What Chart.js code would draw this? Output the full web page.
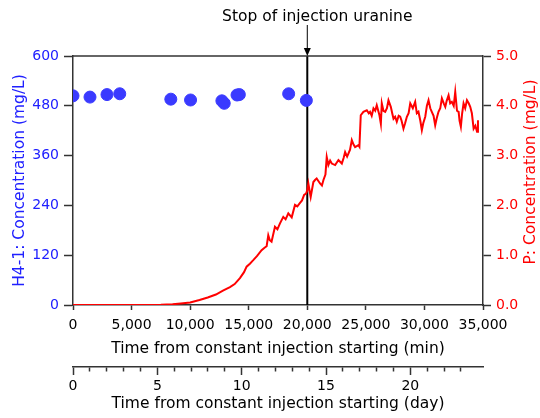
<!DOCTYPE html>
<html>
<head>
<meta charset="utf-8">
<script src="https://cdn.jsdelivr.net/npm/chart.js@4.4.1/dist/chart.umd.min.js"></script>
<style>
  body { margin: 0; background: #fff; }
  #wrap { width: 540px; height: 418px; }
</style>
</head>
<body>
<div id="wrap"><canvas id="myChart"></canvas></div>
<script>
// H4-1 uranine samples (min, mg/L)
const h4Time = [0, 1450, 2900, 3990, 8350, 10035, 12710, 12910, 14000, 14200, 18410, 19920];
const h4Conc = [504, 501, 507, 509, 496, 494, 492, 486, 506, 507, 509, 493];

// P monitoring (min, mg/L)
const pTime = [0, 2000, 4000, 6000, 7500, 8500, 9200, 10000, 10800, 11500, 12200, 12800, 13400, 13800,
  14250, 14600, 14820, 15100, 15390, 15700, 16100, 16350, 16530, 16670, 16800, 16950, 17240, 17450,
  17670, 17950, 18150, 18380, 18670, 18950, 19150, 19380, 19550, 19730, 19900, 20000, 20090, 20290,
  20520, 20660, 20800, 21090, 21250, 21380, 21550, 21660, 21800, 21950, 22090, 22380, 22520, 22660,
  22950, 23100, 23230, 23400, 23510, 23650, 23800, 23950, 24080, 24370, 24450, 24565, 24790, 25080,
  25250, 25360, 25500, 25650, 25800, 25930, 26160, 26280, 26360, 26500, 26650, 26800, 26930, 27130,
  27250, 27360, 27500, 27640, 27800, 27930, 28050, 28210, 28350, 28500, 28650, 28790, 29010, 29210,
  29350, 29490, 29650, 29780, 29900, 30070, 30210, 30350, 30500, 30630, 30780, 30920, 31050, 31200,
  31350, 31490, 31650, 31780, 31900, 32060, 32200, 32340, 32500, 32630, 32780, 32920, 33000, 33110,
  33220, 33340, 33480, 33630, 33780, 33910, 34050, 34200, 34350, 34490, 34570];
const pConc = [0, 0, 0, 0, 0.005, 0.015, 0.03, 0.05, 0.10, 0.15, 0.21, 0.29, 0.36, 0.42,
  0.54, 0.66, 0.77, 0.83, 0.90, 0.98, 1.10, 1.15, 1.18, 1.40, 1.30, 1.27, 1.57, 1.52,
  1.64, 1.77, 1.72, 1.84, 1.76, 2.01, 1.98, 2.05, 2.10, 2.21, 2.24, 2.30, 2.44, 2.17,
  2.47, 2.51, 2.54, 2.44, 2.40, 2.51, 2.62, 2.97, 2.81, 2.90, 2.84, 2.81, 2.86, 2.91,
  2.84, 2.95, 3.07, 2.98, 3.04, 3.12, 3.31, 3.22, 3.17, 3.21, 3.18, 3.81, 3.88, 3.91,
  3.85, 3.88, 3.80, 3.95, 3.90, 4.01, 3.81, 3.64, 4.05, 3.90, 3.88, 3.95, 4.11, 3.98,
  3.85, 3.74, 3.78, 3.68, 3.80, 3.78, 3.70, 3.54, 3.65, 3.78, 3.85, 4.05, 3.95, 4.08,
  3.85, 3.88, 3.70, 3.51, 3.65, 3.78, 4.00, 4.11, 3.95, 3.88, 3.80, 3.61, 3.75, 3.88,
  3.95, 4.15, 4.05, 3.98, 4.10, 4.21, 4.05, 4.08, 4.00, 4.28, 3.90, 3.88, 3.70, 3.58,
  3.85, 4.05, 3.95, 4.11, 4.05, 3.98, 3.85, 3.54, 3.60, 3.48, 3.71];

const minTicks = [0, 5000, 10000, 15000, 20000, 25000, 30000, 35000];
const stopTime = 20000;
const stopLabel = "Stop of injection uranine";
const leftTitle = "H4-1: Concentration (mg/L)";
const rightTitle = "P: Concentration (mg/L)";

const FONT = "'DejaVu Sans', sans-serif";
const BLUE = "#2020ff";
const RED = "#ff0000";
const AXIS = "#333";

const toPoints = (xs, ys) => xs.map((x, i) => ({ x: x, y: ys[i] }));

const extras = {
  id: "extras",
  beforeDatasetsDraw(chart) {
    const { ctx, chartArea, scales } = chart;
    const x = scales.x.getPixelForValue(stopTime);
    ctx.save();
    ctx.strokeStyle = "#000";
    ctx.lineWidth = 2;
    ctx.beginPath();
    ctx.moveTo(x, chartArea.top);
    ctx.lineTo(x, chartArea.bottom);
    ctx.stroke();
    ctx.restore();
  },
  afterDraw(chart) {
    const { ctx, chartArea, scales } = chart;
    const x = scales.x.getPixelForValue(stopTime);
    ctx.save();
    // top frame
    ctx.strokeStyle = AXIS;
    ctx.lineWidth = 1.5;
    ctx.beginPath();
    ctx.moveTo(chartArea.left, chartArea.top);
    ctx.lineTo(chartArea.right, chartArea.top);
    ctx.stroke();
    // arrow + label
    ctx.strokeStyle = "#000";
    ctx.lineWidth = 1;
    ctx.beginPath();
    ctx.moveTo(x, 25);
    ctx.lineTo(x, 49);
    ctx.stroke();
    ctx.fillStyle = "#000";
    ctx.beginPath();
    ctx.moveTo(x - 3.5, 48);
    ctx.lineTo(x + 3.5, 48);
    ctx.lineTo(x, 56);
    ctx.closePath();
    ctx.fill();
    ctx.font = "15.5px " + FONT;
    ctx.textAlign = "center";
    ctx.textBaseline = "alphabetic";
    ctx.fillText(stopLabel, x + 10, 20.5);
    // right axis title, reading bottom to top
    ctx.fillStyle = RED;
    ctx.textBaseline = "middle";
    ctx.translate(531, 172);
    ctx.rotate(-Math.PI / 2);
    ctx.fillText(rightTitle, 0, 0);
    ctx.restore();
  }
};

const tickFont = { family: FONT, size: 14 };
const titleFont = { family: FONT, size: 15.5 };

const config = {
  type: "scatter",
  data: {
    datasets: [
      {
        label: "H4-1",
        data: toPoints(h4Time, h4Conc),
        yAxisID: "y",
        backgroundColor: "#3a3aff",
        borderColor: "#3a3aff",
        pointRadius: 6,
        pointHoverRadius: 6,
        order: 0
      },
      {
        label: "P",
        data: toPoints(pTime, pConc),
        yAxisID: "yP",
        showLine: true,
        borderColor: RED,
        borderWidth: 2,
        pointRadius: 0,
        tension: 0,
        order: 1
      }
    ]
  },
  options: {
    responsive: true,
    maintainAspectRatio: false,
    animation: false,
    layout: { padding: { top: 56, left: 0, right: 0, bottom: 0 } },
    plugins: { legend: { display: false }, tooltip: { enabled: false } },
    scales: {
      x: {
        type: "linear",
        position: "bottom",
        weight: 0,
        min: 0,
        max: 35000,
        afterBuildTicks: (s) => { s.ticks = minTicks.map(v => ({ value: v })); },
        ticks: {
          color: "#000",
          font: tickFont,
          padding: 7,
          maxRotation: 0,
          callback: (v) => v.toLocaleString("en-US")
        },
        grid: { drawOnChartArea: false, tickLength: 5, color: AXIS, tickWidth: 1.5 },
        border: { color: AXIS, width: 1.5 },
        title: {
          display: true,
          text: "Time from constant injection starting (min)",
          color: "#000",
          font: titleFont,
          padding: { top: 9, bottom: 9 }
        },
        afterFit: (s) => { s.height = 62; }
      },
      xDay: {
        type: "linear",
        position: "bottom",
        weight: 1,
        min: 0,
        max: 35000 / 1440,
        afterBuildTicks: (s) => { s.ticks = s.ticks.filter(t => Number.isInteger(t.value)); },
        ticks: {
          stepSize: 1,
          autoSkip: false,
          maxRotation: 0,
          color: "#000",
          font: tickFont,
          padding: 3,
          callback: (v) => (v % 5 === 0 ? v : "")
        },
        grid: {
          drawOnChartArea: false,
          tickLength: 8,
          color: AXIS,
          tickWidth: 1.5,
          tickBorderDash: (c) => (c.tick && c.tick.value % 5 === 0 ? [] : [4, 20])
        },
        border: { color: AXIS, width: 1.5 },
        title: {
          display: true,
          text: "Time from constant injection starting (day)",
          color: "#000",
          font: titleFont,
          padding: { top: 5, bottom: 5 }
        },
        afterFit: (s) => { s.height = 51; }
      },
      y: {
        position: "left",
        min: 0,
        max: 600,
        ticks: { stepSize: 120, color: BLUE, font: tickFont, padding: 5 },
        grid: { drawOnChartArea: false, tickLength: 9, color: AXIS, tickWidth: 1.5 },
        border: { color: AXIS, width: 1.5 },
        title: {
          display: true,
          text: leftTitle,
          color: BLUE,
          font: titleFont,
          padding: { top: 11, bottom: 11 }
        },
        afterFit: (s) => { s.width = 73; }
      },
      yP: {
        position: "right",
        min: 0,
        max: 5,
        ticks: {
          stepSize: 1,
          color: RED,
          font: tickFont,
          padding: 5,
          callback: (v) => v.toFixed(1)
        },
        grid: { drawOnChartArea: false, tickLength: 8, color: AXIS, tickWidth: 1.5 },
        border: { color: AXIS, width: 1.5 },
        afterFit: (s) => { s.width = 57; }
      }
    }
  },
  plugins: [extras]
};

const myChart = new Chart(document.getElementById("myChart"), config);
</script>
</body>
</html>
